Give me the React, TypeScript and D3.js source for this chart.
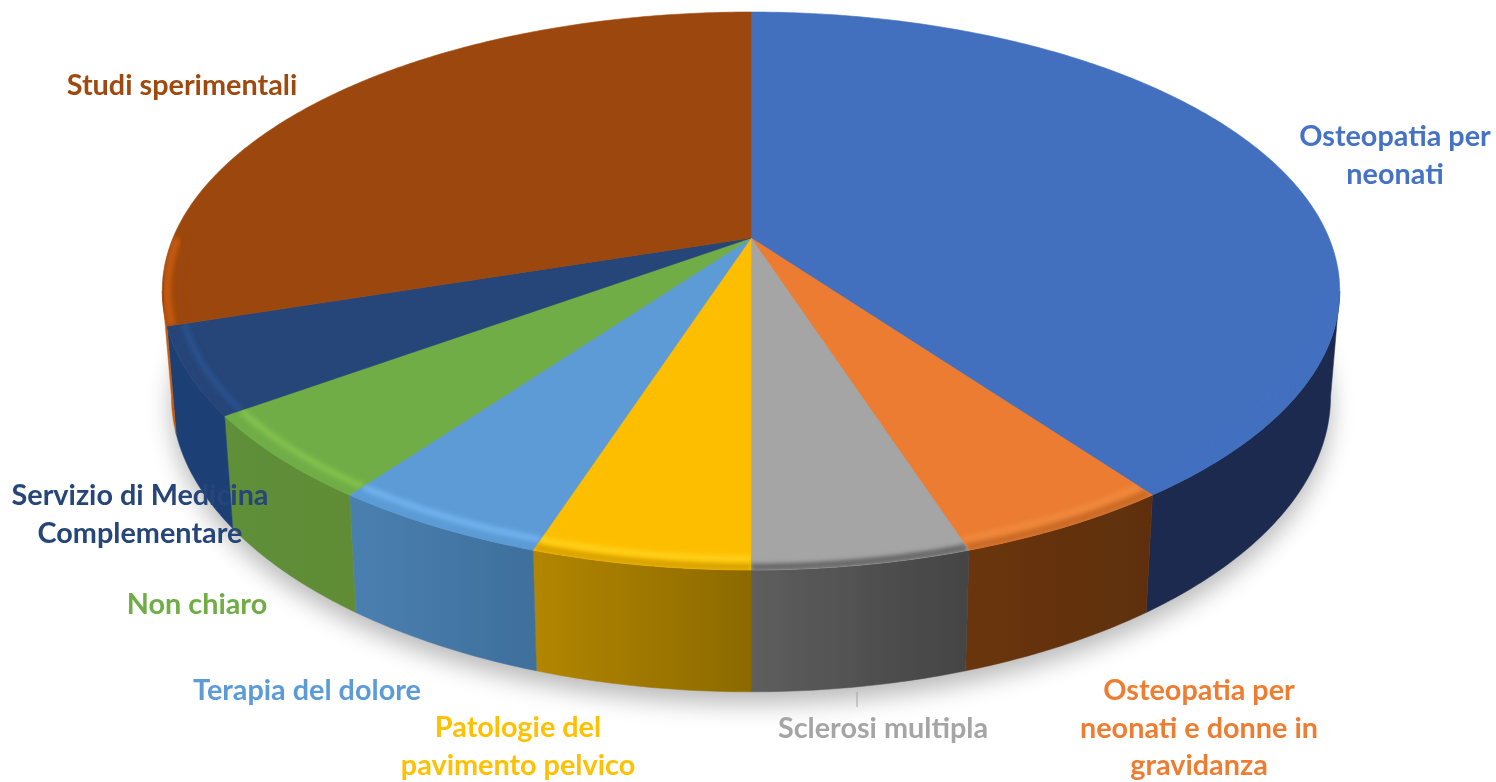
import React from "react";
import * as d3 from "d3";

// Data
const categories = [
  "Osteopatia per neonati",
  "Osteopatia per neonati e donne in gravidanza",
  "Sclerosi multipla",
  "Patologie del pavimento pelvico",
  "Terapia del dolore",
  "Non chiaro",
  "Servizio di Medicina Complementare",
  "Studi sperimentali",
];
const values = [40, 5, 5, 5, 5, 5, 5, 30];

// Styles
const topColors = ["#426FBF", "#EB7B30", "#A5A5A5", "#FDBE00", "#5B9BD5", "#70AD47", "#264478", "#9C470C"];
const labelColors = ["#4472C4", "#ED7D31", "#A5A5A5", "#FFC000", "#5B9BD5", "#70AD47", "#264478", "#9E480E"];
const wallLeft = ["#1A2C50", "#6A3510", "#5E5E5E", "#B38600", "#4A80B0", "#5F8F38", "#1E4176", "#C55A11"];
const wallRight = ["#1A2C50", "#5E2F0F", "#444444", "#8C6A00", "#3F6F9C", "#5F8C36", "#1E4176", "#C55A11"];
const bevelLight = ["#426FBF", "#F08A3C", "#A5A5A5", "#FFD21A", "#73B4F0", "#84C44E", "#2A5290", "#9C470C"];
const bevelDark = ["#426FBF", "#C86A28", "#666666", "#D8A200", "#5B9BD5", "#70AD47", "#264478", "#C55A11"];

const labelLines = [
  ["Osteopatia per", "neonati"],
  ["Osteopatia per", "neonati e donne in", "gravidanza"],
  ["Sclerosi multipla"],
  ["Patologie del", "pavimento pelvico"],
  ["Terapia del dolore"],
  ["Non chiaro"],
  ["Servizio di Medicina", "Complementare"],
  ["Studi sperimentali"],
];
const labelX = [1395, 1199, 883, 518, 307, 197, 140, 182];
const labelY = [146, 700, 738, 737, 700, 614, 505, 95];
const lineStep = 37.5;

// Perspective projection of the disc
const CX = 751;
const K = 0.19;
const TOP = { yc: 238, a: 578, b: 268.9 };
const BOT = { yc: 340, a: 569, b: 285 };
const HORIZON_A = (101 * Math.PI) / 180;
const HORIZON_B = (259 * Math.PI) / 180;
const BEVEL_END = (270 * Math.PI) / 180;

type Plane = { yc: number; a: number; b: number };
function project(theta: number, plane: Plane, r = 1): [number, number] {
  const u = r * Math.sin(theta);
  const v = -r * Math.cos(theta);
  const w = 1 / (1 - K * v);
  return [CX + plane.a * u * w, plane.yc + plane.b * v * w];
}
function arcPoints(a0: number, a1: number, plane: Plane, r = 1): [number, number][] {
  const n = Math.max(2, Math.ceil(Math.abs(a1 - a0) / 0.01));
  return d3.range(n + 1).map((i) => project(a0 + ((a1 - a0) * i) / n, plane, r));
}

export default function App() {
  const arcs = d3.pie<number>().sort(null).startAngle(0).endAngle(2 * Math.PI)(values);
  const line = d3.line();
  const closed = (p: [number, number][]) => (line(p) as string) + "Z";
  const center: [number, number] = [CX, TOP.yc];
  const lowerAll = closed(arcPoints(0, 2 * Math.PI, BOT));

  return (
    <svg
      width={1496}
      height={782}
      viewBox="0 0 1496 782"
      style={{ position: "absolute", left: 0, top: 0, background: "#fff", display: "block" }}
    >
      <defs>
        <filter id="shadow" x="-10%" y="-10%" width="120%" height="130%">
          <feGaussianBlur stdDeviation="12" />
        </filter>
        <filter id="soft" x="-10%" y="-10%" width="120%" height="120%">
          <feGaussianBlur stdDeviation="0.7" />
        </filter>
        <filter id="bevel" x="-30%" y="-30%" width="160%" height="160%">
          <feGaussianBlur stdDeviation="2.4" />
        </filter>
        <filter id="textSoft" x="-5%" y="-5%" width="110%" height="110%">
          <feGaussianBlur stdDeviation="0.35" />
        </filter>
        {arcs.map((d, i) => {
          const a0 = Math.max(d.startAngle, HORIZON_A);
          const a1 = Math.min(d.endAngle, HORIZON_B);
          if (a1 <= a0) return null;
          const xa = project(a0, TOP)[0];
          const xb = project(a1, TOP)[0];
          return (
            <linearGradient key={i} id={`wall${i}`} gradientUnits="userSpaceOnUse" x1={Math.min(xa, xb)} x2={Math.max(xa, xb)} y1={0} y2={0}>
              <stop offset="0" stopColor={wallLeft[i]} />
              <stop offset="1" stopColor={wallRight[i]} />
            </linearGradient>
          );
        })}
        {arcs.map((d, i) => (
          <clipPath key={i} id={`top${i}`}>
            <path d={closed([center, ...arcPoints(d.startAngle, d.endAngle, TOP)])} />
          </clipPath>
        ))}
      </defs>

      <path d={lowerAll} transform="translate(0,12)" fill="#000" opacity={0.27} filter="url(#shadow)" />

      <g filter="url(#soft)">
        {arcs.map((d, i) => {
          const a0 = Math.max(d.startAngle, HORIZON_A);
          const a1 = Math.min(d.endAngle, HORIZON_B);
          if (a1 <= a0) return null;
          const p = closed([...arcPoints(a0, a1, TOP), ...arcPoints(a1, a0, BOT)]);
          return <path key={i} d={p} fill={`url(#wall${i})`} stroke={`url(#wall${i})`} strokeWidth={0.5} />;
        })}
        {arcs.map((d, i) => (
          <path
            key={i}
            d={closed([center, ...arcPoints(d.startAngle, d.endAngle, TOP)])}
            fill={topColors[i]}
            stroke={topColors[i]}
            strokeWidth={0.6}
          />
        ))}
      </g>

      {arcs.map((d, i) => {
        const a0 = Math.max(d.startAngle, HORIZON_A);
        const a1 = Math.min(d.endAngle, BEVEL_END);
        if (a1 <= a0) return null;
        return (
          <g key={i} clipPath={`url(#top${i})`}>
            <path
              d={line(arcPoints(a0, a1, TOP, 0.992)) as string}
              fill="none"
              stroke={bevelDark[i]}
              strokeWidth={8}
              filter="url(#bevel)"
            />
            <path
              d={line(arcPoints(a0, a1, TOP, 0.972)) as string}
              fill="none"
              stroke={bevelLight[i]}
              strokeWidth={6}
              filter="url(#bevel)"
            />
          </g>
        );
      })}

      <line x1={857} x2={857} y1={692} y2={707} stroke="#A5A5A5" strokeWidth={1} />

      <g fontFamily="Lato, 'Open Sans', sans-serif" fontWeight={700} fontSize={28.8} textAnchor="middle" filter="url(#textSoft)">
        {categories.map((c, i) => (
          <text key={c} fill={labelColors[i]} x={labelX[i]} y={labelY[i]}>
            {labelLines[i].map((t, j) => (
              <tspan key={j} x={labelX[i]} y={labelY[i] + j * lineStep}>
                {t}
              </tspan>
            ))}
          </text>
        ))}
      </g>
    </svg>
  );
}
